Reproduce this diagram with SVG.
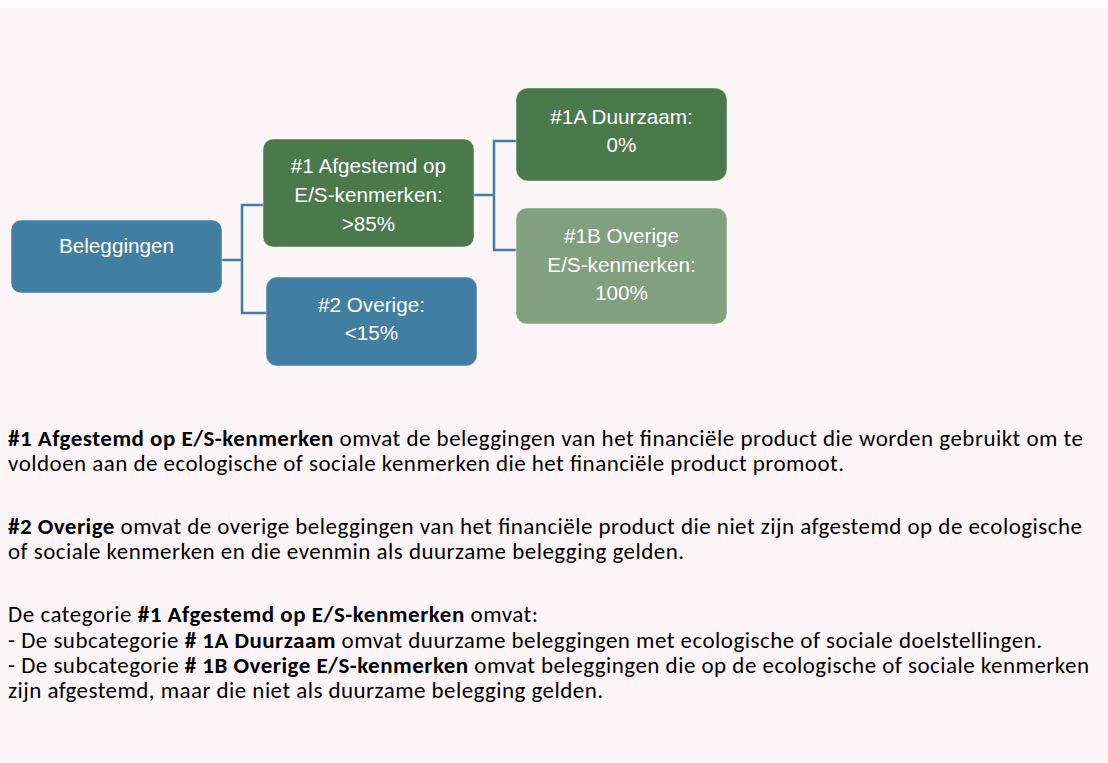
<svg xmlns="http://www.w3.org/2000/svg" width="1108" height="763" viewBox="0 0 1108 763">
<style>
.box{stroke:#ffffff;stroke-opacity:0.45;stroke-width:1}
.blue{fill:#417fa2}
.green{fill:#4a7a4b}
.lgreen{fill:#80a07f}
.bt{font-family:"Liberation Sans",Arial,sans-serif;font-size:20.7px;fill:#ffffff;text-anchor:middle}
.body{font-family:Carlito,Lato,"Liberation Sans",sans-serif;font-size:23px;fill:#000000}
.b{font-weight:bold}
.conn{fill:none;stroke:#417fa2;stroke-width:2.5}
</style>
<rect x="0" y="0" width="1108" height="763" fill="#ffffff"/>
<rect x="0" y="8" width="1108" height="755" fill="#fbf5f7"/>
<g id="connectors">
<path class="conn" d="M222 260 H242 M242 205 V313 M240.75 205 H263 M240.75 313 H266"/>
<path class="conn" d="M474 195 H494 M494 141 V250 M492.75 141 H516 M492.75 250 H516"/>
</g>
<g id="node-beleggingen">
<rect class="box blue" x="11" y="220" width="211" height="73" rx="10"/>
<text class="bt" x="116.5" y="253">Beleggingen</text>
</g>
<g id="node-1">
<rect class="box green" x="263" y="139" width="211" height="108" rx="10"/>
<text class="bt" x="368.5" y="173">#1 Afgestemd op</text>
<text class="bt" x="368.5" y="202">E/S-kenmerken:</text>
<text class="bt" x="368.5" y="231">&gt;85%</text>
</g>
<g id="node-2">
<rect class="box blue" x="266" y="277" width="211" height="89" rx="11"/>
<text class="bt" x="371.5" y="312">#2 Overige:</text>
<text class="bt" x="371.5" y="340">&lt;15%</text>
</g>
<g id="node-1a">
<rect class="box green" x="516" y="88" width="211" height="93" rx="12"/>
<text class="bt" x="621.5" y="124">#1A Duurzaam:</text>
<text class="bt" x="621.5" y="152">0%</text>
</g>
<g id="node-1b">
<rect class="box lgreen" x="516" y="208" width="211" height="116" rx="11"/>
<text class="bt" x="621.5" y="243">#1B Overige</text>
<text class="bt" x="621.5" y="272">E/S-kenmerken:</text>
<text class="bt" x="621.5" y="300">100%</text>
</g>
<g id="legend">
<text class="body" x="8" y="445.5" textLength="1075"><tspan class="b">#1 Afgestemd op E/S-kenmerken</tspan> omvat de beleggingen van het financiële product die worden gebruikt om te</text>
<text class="body" x="8" y="471" textLength="836">voldoen aan de ecologische of sociale kenmerken die het financiële product promoot.</text>
<text class="body" x="8" y="533.5" textLength="1074"><tspan class="b">#2 Overige</tspan> omvat de overige beleggingen van het financiële product die niet zijn afgestemd op de ecologische</text>
<text class="body" x="8" y="559" textLength="676">of sociale kenmerken en die evenmin als duurzame belegging gelden.</text>
<text class="body" x="8" y="622" textLength="530">De categorie <tspan class="b">#1 Afgestemd op E/S-kenmerken</tspan> omvat:</text>
<text class="body" x="8" y="647.5" textLength="1034">- De subcategorie <tspan class="b"># 1A Duurzaam</tspan> omvat duurzame beleggingen met ecologische of sociale doelstellingen.</text>
<text class="body" x="8" y="672.5" textLength="1081">- De subcategorie <tspan class="b"># 1B Overige E/S-kenmerken</tspan> omvat beleggingen die op de ecologische of sociale kenmerken</text>
<text class="body" x="8" y="697.5" textLength="595">zijn afgestemd, maar die niet als duurzame belegging gelden.</text>
</g>
</svg>
